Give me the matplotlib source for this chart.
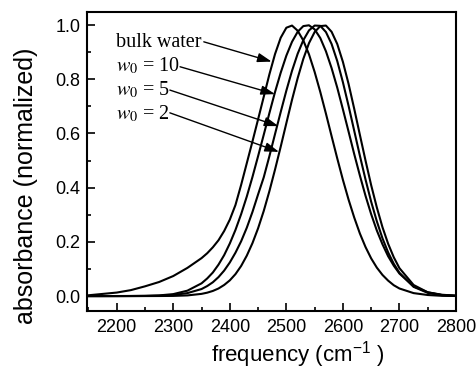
import matplotlib
matplotlib.use("Agg")
import matplotlib.pyplot as plt
from matplotlib.ticker import MultipleLocator, FormatStrFormatter

plt.rcParams['font.family'] = ['Liberation Sans', 'DejaVu Sans']
plt.rcParams['mathtext.fontset'] = 'custom'
plt.rcParams['mathtext.rm'] = 'Liberation Sans'
plt.rcParams['mathtext.it'] = 'Liberation Sans:italic'
plt.rcParams['mathtext.sf'] = 'Liberation Sans'

# frequency grid (cm^-1)
freq = ([2150, 2175, 2200, 2225, 2250, 2275, 2300, 2325]
        + [2350, 2360, 2370, 2380, 2390, 2400, 2410, 2420, 2430, 2440,
           2450, 2460, 2470, 2480, 2490, 2500, 2510, 2520, 2530, 2540,
           2550, 2560, 2570, 2580, 2590, 2600, 2610, 2620, 2630, 2640,
           2650, 2660, 2670, 2680, 2690, 2700]
        + [2725, 2750, 2775, 2800])

bulk_water = ([0.003, 0.008, 0.013, 0.022, 0.036, 0.052, 0.074, 0.104]
              + [0.140, 0.158, 0.180, 0.206, 0.240, 0.282, 0.336, 0.410, 0.490, 0.570,
                 0.652, 0.735, 0.818, 0.893, 0.953, 0.990, 0.998, 0.979, 0.943, 0.892,
                 0.827, 0.753, 0.673, 0.590, 0.508, 0.429, 0.356, 0.290, 0.231, 0.181,
                 0.139, 0.105, 0.078, 0.057, 0.040, 0.028]
              + [0.011, 0.004, 0.001, 0.0003])

w0_10 = ([0.0, 0.0001, 0.0002, 0.0005, 0.001, 0.0025, 0.0073, 0.020]
         + [0.047, 0.065, 0.087, 0.116, 0.151, 0.194, 0.244, 0.302, 0.367, 0.439,
            0.516, 0.595, 0.675, 0.753, 0.824, 0.887, 0.938, 0.975, 0.996, 0.999,
            0.984, 0.952, 0.903, 0.841, 0.769, 0.689, 0.607, 0.524, 0.445, 0.370,
            0.302, 0.242, 0.191, 0.147, 0.112, 0.083]
         + [0.036, 0.014, 0.005, 0.0015])

w0_5 = ([0.0, 0.0, 0.0001, 0.0002, 0.0005, 0.0015, 0.004, 0.011]
        + [0.026, 0.037, 0.051, 0.070, 0.094, 0.124, 0.160, 0.202, 0.252, 0.310,
           0.375, 0.438, 0.516, 0.598, 0.679, 0.758, 0.831, 0.894, 0.944, 0.980,
           0.998, 0.997, 0.974, 0.930, 0.867, 0.789, 0.702, 0.610, 0.518, 0.430,
           0.348, 0.276, 0.213, 0.161, 0.119, 0.086]
        + [0.034, 0.012, 0.0035, 0.001])

w0_2 = ([0.0, 0.0, 0.0, 0.0, 0.0001, 0.0003, 0.0007, 0.0025]
        + [0.0082, 0.0126, 0.019, 0.028, 0.041, 0.058, 0.081, 0.111, 0.149, 0.195,
           0.250, 0.314, 0.387, 0.467, 0.551, 0.638, 0.724, 0.804, 0.875, 0.933,
           0.974, 0.996, 0.998, 0.975, 0.930, 0.864, 0.783, 0.691, 0.595, 0.500,
           0.409, 0.327, 0.254, 0.193, 0.143, 0.103]
        + [0.041, 0.014, 0.004, 0.001])

series = [bulk_water, w0_10, w0_5, w0_2]
labels = ["bulk water", r"$w_0$ = 10", r"$w_0$ = 5", r"$w_0$ = 2"]
label_x = [2199, 2199, 2199, 2199]
label_y = [0.918, 0.830, 0.742, 0.654]
arrow_start = [(2354, 0.938), (2312, 0.846), (2294, 0.760), (2294, 0.676)]
arrow_end = [(2474, 0.865), (2480, 0.745), (2486, 0.627), (2487, 0.532)]

fig = plt.figure(figsize=(4.77, 3.69), dpi=100)
ax = fig.add_axes([87.3 / 477, 1 - 311 / 369, (456 - 87.3) / 477, (311 - 12) / 369])

for s in series:
    ax.plot(freq, s, color='black', lw=1.5, solid_joinstyle='round')

for lab, tx, ty, (sx, sy), (ex, ey) in zip(labels, label_x, label_y, arrow_start, arrow_end):
    ax.text(tx, ty, lab, fontsize=14.5, family='Liberation Serif',
            math_fontfamily='stix', va='baseline', ha='left')
    ax.annotate('', xy=(ex, ey), xytext=(sx, sy),
                arrowprops=dict(arrowstyle='-|>,head_length=0.85,head_width=0.28',
                                color='black', lw=1.0, shrinkA=0, shrinkB=0))

ax.set_xlim(2148, 2800)
ax.set_ylim(-0.055, 1.048)
ax.xaxis.set_major_locator(MultipleLocator(100))
ax.xaxis.set_minor_locator(MultipleLocator(50))
ax.yaxis.set_major_locator(MultipleLocator(0.2))
ax.yaxis.set_minor_locator(MultipleLocator(0.1))
ax.yaxis.set_major_formatter(FormatStrFormatter('%.1f'))
ax.tick_params(which='both', direction='in', top=False, right=False, width=1.2)
ax.tick_params(which='major', length=6, labelsize=13)
ax.tick_params(axis='x', which='major', pad=6)
ax.tick_params(axis='y', which='major', pad=5)
ax.tick_params(which='minor', length=3)
for sp in ax.spines.values():
    sp.set_linewidth(1.5)

ax.set_xlabel(r"frequency (cm$^{\mathrm{-1}}$ )", fontsize=16)
ax.set_ylabel("absorbance (normalized)", fontsize=18)
ax.xaxis.set_label_coords(0.572, -0.095)
ax.yaxis.set_label_coords(-0.134, 0.42)

fig.savefig("out.png", dpi=100)
